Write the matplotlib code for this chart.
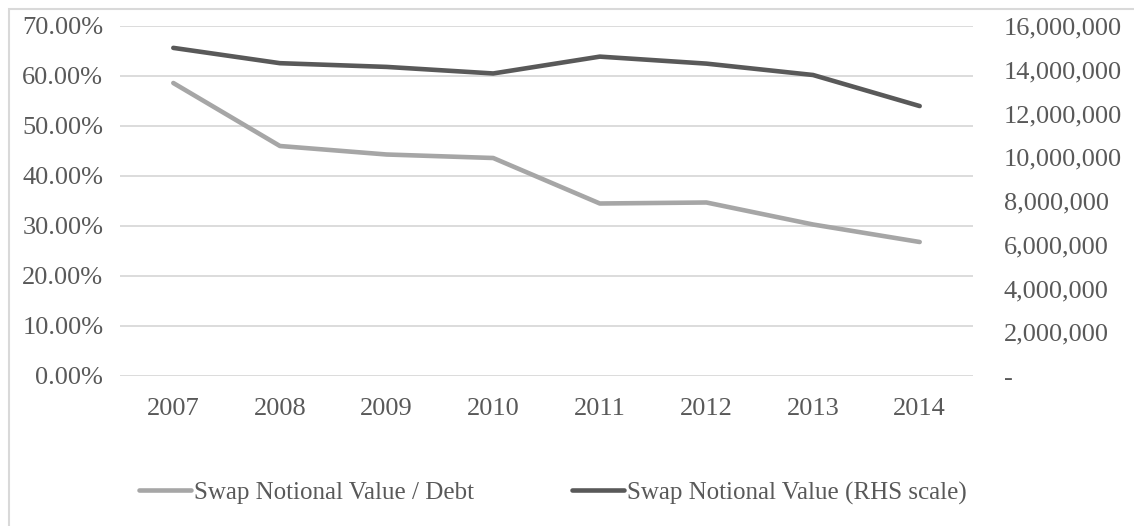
import matplotlib
matplotlib.use("Agg")
import matplotlib.pyplot as plt
from matplotlib.patches import Rectangle
from matplotlib.ticker import FuncFormatter, MultipleLocator

years = ["2007", "2008", "2009", "2010", "2011", "2012", "2013", "2014"]
ratio_pct = [58.6, 46.0, 44.3, 43.6, 34.5, 34.7, 30.3, 26.8]
notional = [15000000, 14300000, 14130000, 13830000, 14600000, 14280000, 13760000, 12340000]

label_ratio = "Swap Notional Value / Debt"
label_notional = "Swap Notional Value (RHS scale)"

txt = "#595959"
grid = "#d9d9d9"
plt.rcParams["font.family"] = ["Liberation Serif", "DejaVu Serif"]
plt.rcParams["font.size"] = 19

fig = plt.figure(figsize=(11.34, 5.26), dpi=100)
W, H = 1134, 526
ax = fig.add_axes([120 / W, 1 - 376 / H, (973 - 120) / W, 350 / H])
ax2 = ax.twinx()

x = list(range(len(years)))
l1, = ax.plot(x, ratio_pct, color="#a6a6a6", lw=3.3, solid_capstyle="round", label=label_ratio)
l2, = ax2.plot(x, notional, color="#595959", lw=3.3, solid_capstyle="round", label=label_notional)

ax.set_xlim(-0.5, len(years) - 0.5)
ax.set_ylim(0, 70)
ax2.set_ylim(0, 16000000)
ax.yaxis.set_major_locator(MultipleLocator(10))
ax2.yaxis.set_major_locator(MultipleLocator(2000000))
ax.yaxis.set_major_formatter(FuncFormatter(lambda v, p: f"{v:.2f}%"))
ax2.yaxis.set_major_formatter(FuncFormatter(lambda v, p: "-" if v == 0 else f"{v:,.0f}"))
ax.set_xticks(x)
ax.set_xticklabels(years)

ax.grid(axis="y", color=grid, lw=1.3)
ax.set_axisbelow(True)
for a in (ax, ax2):
    for s in a.spines.values():
        s.set_visible(False)
ax.tick_params(axis="y", length=0, pad=12, colors=txt)
ax.tick_params(axis="x", length=0, pad=16, colors=txt)
ax2.tick_params(axis="y", length=0, pad=22, colors=txt)
for t in ax2.get_yticklabels():
    t.set_horizontalalignment("left")

fig.legend(handles=[l1, l2], loc="center", bbox_to_anchor=(553 / W, 1 - 493 / H),
           ncol=2, frameon=False, fontsize=18, handlelength=2.08, handletextpad=0.12,
           columnspacing=3.9, labelcolor=txt, borderaxespad=0)

fig.patches.append(Rectangle((9 / W, -0.1), 1.2, 1.1 - 9 / H, transform=fig.transFigure,
                             fill=False, edgecolor=grid, lw=1.5))

fig.savefig("out.png", dpi=100, facecolor="white")
